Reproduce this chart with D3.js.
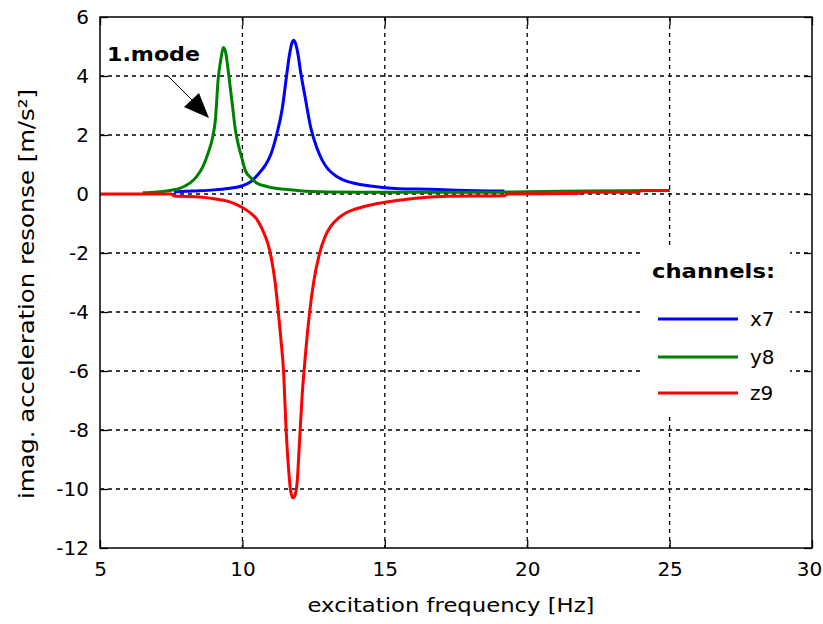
<!DOCTYPE html>
<html>
<head>
<meta charset="utf-8">
<script src="https://cdn.jsdelivr.net/npm/d3@7"></script>
<style>
  html, body { margin: 0; padding: 0; background: #fff; }
  svg { display: block; }
</style>
</head>
<body>
<div id="chart"></div>
<script>
// ---- data ----
const xTicks = [5, 10, 15, 20, 25, 30];
const yTicks = [-12, -10, -8, -6, -4, -2, 0, 2, 4, 6];

const freqX7 = [7.6, 8.0, 8.5, 9.0, 9.5, 10.0, 10.3, 10.6, 10.8, 11.0, 11.2, 11.4, 11.55, 11.65, 11.75, 11.8, 11.85, 11.95, 12.05, 12.2, 12.4, 12.6, 12.8, 13.0, 13.3, 13.6, 14.0, 14.5, 15.0, 15.5, 16.6, 17.5, 19.2];
const valX7  = [0.07, 0.09, 0.11, 0.14, 0.19, 0.28, 0.42, 0.72, 0.97, 1.35, 2.0, 2.9, 4.0, 4.7, 5.15, 5.21, 5.15, 4.75, 4.1, 3.3, 2.25, 1.6, 1.15, 0.85, 0.6, 0.45, 0.35, 0.27, 0.21, 0.18, 0.16, 0.13, 0.1];

const freqY8 = [6.5, 7.0, 7.5, 7.8, 8.0, 8.2, 8.4, 8.6, 8.8, 8.95, 9.05, 9.15, 9.25, 9.33, 9.4, 9.5, 9.55, 9.65, 9.75, 9.85, 10.0, 10.1, 10.3, 10.5, 10.8, 11.1, 11.5, 12.0, 13.0, 15.0, 18.0, 20.0, 22.0, 25.0];
const valY8  = [0.04, 0.07, 0.13, 0.19, 0.28, 0.4, 0.6, 0.9, 1.4, 1.9, 2.5, 3.9, 4.6, 4.97, 4.85, 4.2, 3.8, 3.0, 2.2, 1.7, 1.15, 0.8, 0.55, 0.37, 0.27, 0.2, 0.16, 0.11, 0.07, 0.06, 0.06, 0.08, 0.1, 0.12];

const freqZ9 = [5, 7.5, 7.6, 8.5, 9.0, 9.5, 9.8, 10.0, 10.3, 10.5, 10.7, 10.9, 11.0, 11.15, 11.25, 11.35, 11.45, 11.53, 11.62, 11.7, 11.78, 11.85, 11.92, 12.0, 12.1, 12.2, 12.35, 12.5, 12.7, 12.9, 13.1, 13.3, 13.6, 14.0, 14.5, 15.0, 16.0, 17.2, 19.2, 19.3, 21.8, 21.9, 23.9, 24.0, 25.0];
const valZ9  = [0, 0, -0.07, -0.1, -0.16, -0.25, -0.36, -0.46, -0.66, -0.85, -1.2, -1.7, -2.1, -3.0, -3.9, -4.9, -6.1, -7.9, -9.3, -10.1, -10.3, -10.2, -9.8, -8.5, -6.8, -5.6, -4.1, -3.0, -2.05, -1.45, -1.1, -0.88, -0.66, -0.5, -0.37, -0.28, -0.15, -0.08, -0.06, 0, 0.02, 0.06, 0.06, 0.12, 0.12];

const seriesNames  = ["x7", "y8", "z9"];
const seriesColors = ["#0000ff", "#008000", "#ff0000"];
const seriesFreqs  = [freqX7, freqY8, freqZ9];
const seriesVals   = [valX7, valY8, valZ9];

const xTitle = "excitation frequency [Hz]";
const yTitle = "imag. acceleration resonse [m/s²]";
const legendTitle = "channels:";
const annotationText = "1.mode";

// ---- layout ----
const W = 823, H = 624;
const L = 100, T = 17, R = 812, B = 548;

const svg = d3.select("#chart").append("svg")
  .attr("width", W).attr("height", H)
  .style("font-family", "'DejaVu Sans', sans-serif");

svg.append("rect").attr("width", W).attr("height", H).attr("fill", "#fff");

const x = d3.scaleLinear().domain([5, 30]).range([L, R]);
const y = d3.scaleLinear().domain([-12, 6]).range([B, T]);

// grid
const grid = svg.append("g");
grid.selectAll("line.gx").data(xTicks.slice(1, -1)).join("line")
  .attr("x1", d => x(d)).attr("x2", d => x(d))
  .attr("y1", T).attr("y2", B)
  .attr("stroke", "#000").attr("stroke-width", 1.3).attr("stroke-dasharray", "4,4");
grid.selectAll("line.gy").data(yTicks.slice(1, -1)).join("line")
  .attr("y1", d => y(d)).attr("y2", d => y(d))
  .attr("x1", L).attr("x2", R)
  .attr("stroke", "#000").attr("stroke-width", 1.3).attr("stroke-dasharray", "4,4");

// legend background (covers grid)
svg.append("rect").attr("x", 642).attr("y", 247).attr("width", 148).attr("height", 166).attr("fill", "#fff");

// axes with inner ticks
const tickLen = 8;
const fmt = d => String(d);
const axB = d3.axisBottom(x).tickValues(xTicks).tickSize(-tickLen).tickPadding(14).tickFormat(fmt);
const axT = d3.axisTop(x).tickValues(xTicks).tickSize(-tickLen).tickFormat("");
const axL = d3.axisLeft(y).tickValues(yTicks).tickSize(-tickLen).tickPadding(11).tickFormat(fmt);
const axR = d3.axisRight(y).tickValues(yTicks).tickSize(-tickLen).tickFormat("");

function styleAxis(g) {
  g.select(".domain").remove();
  g.selectAll(".tick line").attr("stroke", "#000").attr("stroke-width", 1.3);
  g.selectAll(".tick text").attr("fill", "#000").style("font-size", "20px").style("font-family", "'DejaVu Sans', sans-serif");
}
const gB = svg.append("g").attr("transform", `translate(0,${B})`).call(axB).call(styleAxis);
gB.selectAll(".tick text").filter(d => d === 30).attr("dx", -3);
svg.append("g").attr("transform", `translate(0,${T})`).call(axT).call(styleAxis);
svg.append("g").attr("transform", `translate(${L},0)`).call(axL).call(styleAxis);
svg.append("g").attr("transform", `translate(${R},0)`).call(axR).call(styleAxis);

// curves
const line = d3.line().x(d => x(d[0])).y(d => y(d[1])).curve(d3.curveMonotoneX);
seriesNames.forEach((name, i) => {
  const pts = d3.zip(seriesFreqs[i], seriesVals[i]);
  svg.append("path").datum(pts)
    .attr("d", line)
    .attr("fill", "none")
    .attr("stroke", seriesColors[i])
    .attr("stroke-width", 3)
    .attr("stroke-linejoin", "round");
});

// frame
svg.append("rect").attr("x", L).attr("y", T).attr("width", R - L).attr("height", B - T)
  .attr("fill", "none").attr("stroke", "#000").attr("stroke-width", 1.5);

// axis titles
svg.append("text").attr("x", 451).attr("y", 612).attr("text-anchor", "middle")
  .style("font-size", "20px").attr("textLength", 287).attr("lengthAdjust", "spacingAndGlyphs")
  .text(xTitle);
svg.append("text").attr("transform", "translate(34,294) rotate(-90)").attr("text-anchor", "middle")
  .style("font-size", "21px").attr("textLength", 410).attr("lengthAdjust", "spacingAndGlyphs")
  .text(yTitle);

// legend
svg.append("text").attr("x", 652).attr("y", 278).style("font-size", "19px").style("font-weight", "bold")
  .attr("textLength", 123).attr("lengthAdjust", "spacingAndGlyphs")
  .text(legendTitle);
const legY = [319, 357, 393];
seriesNames.forEach((name, i) => {
  svg.append("line").attr("x1", 658).attr("x2", 738).attr("y1", legY[i]).attr("y2", legY[i])
    .attr("stroke", seriesColors[i]).attr("stroke-width", 3);
  svg.append("text").attr("x", 750).attr("y", legY[i] + 7).style("font-size", "20px").text(name);
});

// annotation
svg.append("text").attr("x", 107).attr("y", 61).style("font-size", "20px").style("font-weight", "bold")
  .attr("textLength", 93).attr("lengthAdjust", "spacingAndGlyphs")
  .text(annotationText);
svg.append("line").attr("x1", 168).attr("y1", 76).attr("x2", 195).attr("y2", 103)
  .attr("stroke", "#000").attr("stroke-width", 1);
svg.append("path").attr("d", "M209,118 L184,107 L199,93 Z").attr("fill", "#000");
</script>
</body>
</html>
